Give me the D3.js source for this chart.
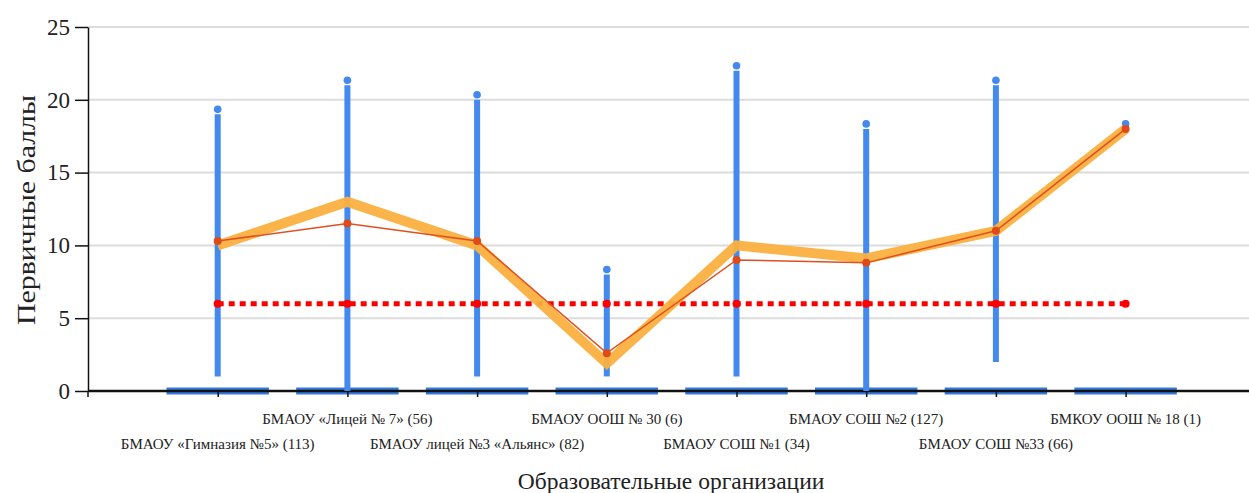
<!DOCTYPE html>
<html>
<head>
<meta charset="utf-8">
<script src="https://cdn.jsdelivr.net/npm/d3@7/dist/d3.min.js"></script>
<style>
  html, body { margin: 0; padding: 0; background: #fff; }
  svg { display: block; }
  text { font-family: "Liberation Serif", "DejaVu Serif", "Times New Roman", serif; fill: #222; }
</style>
</head>
<body>
<svg id="chart" width="1249" height="493"></svg>
<script>
const categories = [
  "БМАОУ «Гимназия №5» (113)",
  "БМАОУ «Лицей № 7» (56)",
  "БМАОУ лицей №3 «Альянс» (82)",
  "БМАОУ ООШ № 30 (6)",
  "БМАОУ СОШ №1 (34)",
  "БМАОУ СОШ №2 (127)",
  "БМАОУ СОШ №33 (66)",
  "БМКОУ ООШ № 18 (1)"
];
const minScores = [1, 0, 1, 1, 1, 0, 2, 18];
const maxScores = [19, 21, 20, 8, 22, 18, 21, 18];
const orangeScores = [10.0, 13.0, 10.0, 1.9, 10.0, 9.1, 11.0, 18.0];
const redScores = [10.3, 11.5, 10.3, 2.6, 9.0, 8.8, 11.0, 18.0];
const thresholdScores = [6, 6, 6, 6, 6, 6, 6, 6];
const yTicks = [0, 5, 10, 15, 20, 25];
const yTitle = "Первичные баллы";
const xTitle = "Образовательные организации";

const W = 1249, H = 493;
const mLeft = 88, mTop = 27, mBottom = 391;
const FONT = "'Liberation Serif', 'DejaVu Serif', serif";
const svg = d3.select("#chart");

const x = d3.scalePoint().domain(categories).range([mLeft, mLeft + 129.7 * 9]).padding(1);
const y = d3.scaleLinear().domain([0, 25]).range([mBottom, mTop]);
const step = x.step();

// gridlines
svg.append("g").selectAll("line").data(yTicks.filter(d => d > 0)).join("line")
  .attr("x1", mLeft).attr("x2", W)
  .attr("y1", d => y(d)).attr("y2", d => y(d))
  .attr("stroke", "#dcdcdc").attr("stroke-width", 2);

// baseline bars
svg.append("g").selectAll("line").data(categories).join("line")
  .attr("x1", d => x(d) - step * 0.395).attr("x2", d => x(d) + step * 0.395)
  .attr("y1", y(0)).attr("y2", y(0))
  .attr("stroke", "#3479dc").attr("stroke-width", 7);

// x axis
const xAxis = d3.axisBottom(x).tickSize(6).tickSizeOuter(6).tickFormat("");
const gx = svg.append("g").attr("transform", `translate(0,${y(0)})`).call(xAxis);
gx.select(".domain").remove();
gx.selectAll(".tick line").attr("stroke", "#111").attr("stroke-width", 1.5);
svg.append("line").attr("x1", mLeft).attr("x2", W).attr("y1", y(0)).attr("y2", y(0))
  .attr("stroke", "#111").attr("stroke-width", 2.5);
svg.append("line").attr("x1", mLeft).attr("x2", mLeft).attr("y1", y(0)).attr("y2", y(0) + 6)
  .attr("stroke", "#111").attr("stroke-width", 1.5);

// y axis
const yAxis = d3.axisLeft(y).tickValues(yTicks).tickSize(13).tickSizeOuter(0).tickPadding(5);
const gy = svg.append("g").attr("transform", `translate(${mLeft},0)`).call(yAxis);
gy.attr("font-family", FONT);
gy.select(".domain").attr("stroke", "#111").attr("stroke-width", 1.5);
gy.selectAll(".tick line").attr("stroke", "#111").attr("stroke-width", 1.5);
gy.selectAll(".tick text").attr("font-size", 23).attr("fill", "#222").style("font-family", FONT);

// category labels
svg.append("g").selectAll("text").data(categories).join("text")
  .attr("x", d => x(d))
  .attr("y", (d, i) => i % 2 === 0 ? 449 : 424)
  .attr("text-anchor", "middle")
  .attr("font-size", 15)
  .style("font-family", FONT)
  .text(d => d);

// range lines
const rng = categories.map((c, i) => ({ c, lo: minScores[i], hi: maxScores[i] }));
svg.append("g").selectAll("line").data(rng).join("line")
  .attr("x1", d => x(d.c)).attr("x2", d => x(d.c))
  .attr("y1", d => y(d.lo)).attr("y2", d => y(d.hi))
  .attr("stroke", "#4389ee").attr("stroke-width", 6);
svg.append("g").selectAll("circle").data(rng).join("circle")
  .attr("cx", d => x(d.c)).attr("cy", d => y(d.hi) - 5)
  .attr("r", 3.8).attr("fill", "#4389ee");

// threshold dotted line
const line = d3.line().x(d => x(d.c)).y(d => y(d.v));
const thr = categories.map((c, i) => ({ c, v: thresholdScores[i] }));
svg.append("path").datum(thr).attr("d", line)
  .attr("fill", "none").attr("stroke", "#ff0000").attr("stroke-width", 5)
  .attr("stroke-dasharray", "6,5");
svg.append("g").selectAll("circle").data(thr).join("circle")
  .attr("cx", d => x(d.c)).attr("cy", d => y(d.v)).attr("r", 4).attr("fill", "#ff0000");

// orange thick line
const org = categories.map((c, i) => ({ c, v: orangeScores[i] }));
svg.append("path").datum(org).attr("d", line)
  .attr("fill", "none").attr("stroke", "#fbb03f").attr("stroke-width", 10)
  .attr("stroke-opacity", 0.95).attr("stroke-linejoin", "miter");

// red thin line
const red = categories.map((c, i) => ({ c, v: redScores[i] }));
svg.append("path").datum(red).attr("d", line)
  .attr("fill", "none").attr("stroke", "#e0501e").attr("stroke-width", 1.5);
svg.append("g").selectAll("circle").data(red).join("circle")
  .attr("cx", d => x(d.c)).attr("cy", d => y(d.v)).attr("r", 4).attr("fill", "#e04a18");

// titles
svg.append("text").attr("x", 671).attr("y", 489).attr("text-anchor", "middle")
  .attr("font-size", 23.5).style("font-family", FONT).text(xTitle);
svg.append("text").attr("transform", "translate(35,210) rotate(-90)")
  .attr("text-anchor", "middle").attr("font-size", 25)
  .attr("textLength", 230).attr("lengthAdjust", "spacingAndGlyphs")
  .style("font-family", FONT).text(yTitle);
</script>
</body>
</html>
